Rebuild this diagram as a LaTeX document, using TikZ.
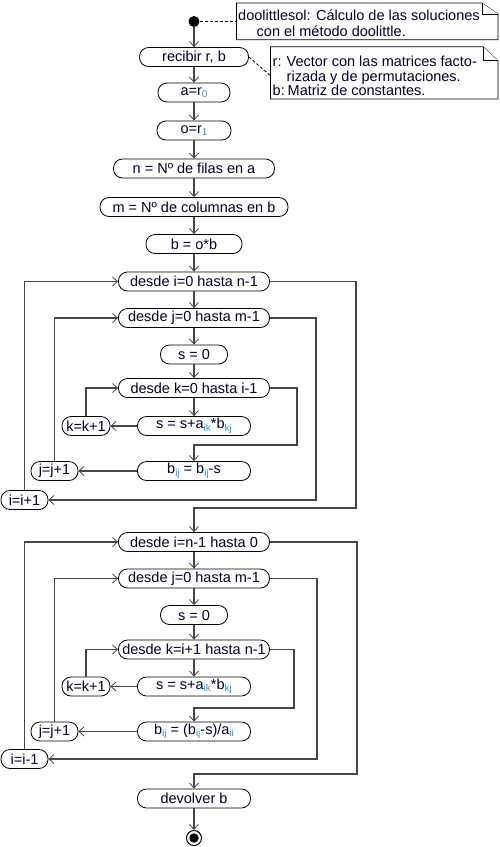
\documentclass[tikz,border=0pt]{standalone}
\usepackage{fontspec}
\setmainfont{Liberation Sans}
\usetikzlibrary{arrows.meta}
\definecolor{txt}{RGB}{0,0,45}
\definecolor{subc}{RGB}{40,150,220}
\definecolor{ln}{RGB}{70,70,70}
\newcommand\fs{\fontsize{14.5}{17}\selectfont}
\newcommand\subx[1]{\raisebox{-2.5pt}{\fontsize{10}{10}\selectfont\color{subc}#1}}
\tikzset{
  box/.style={draw=black, line width=0.8pt, fill=white, rounded corners=9pt, minimum height=19pt, inner sep=0pt, text=txt, font=\fs},
  conn/.style={draw=ln, line width=1.1pt},
  arr/.style={conn, -{Straight Barb[length=5pt,width=9pt,line width=0.8pt]}},
  notebox/.style={inner sep=0pt, anchor=north west},
  notetxt/.style={inner sep=0pt, anchor=base west, text=txt, font=\fs},
  dsh/.style={draw=black, line width=0.8pt, dash pattern=on 3pt off 2pt},
  noteline/.style={draw=black, line width=0.8pt, fill=white}
}
\begin{document}
\begin{tikzpicture}[x=1pt,y=-1pt]
\useasboundingbox (0,0) rectangle (499,847);
% notes
\node[notebox, minimum width=261pt, minimum height=36.3pt] (note1) at (236.5,3) {};
\draw[noteline] (note1.north west) -- ([xshift=-16pt]note1.north east) -- ([yshift=-11pt]note1.north east) -- (note1.south east) -- (note1.south west) -- cycle;
\draw[noteline] ([xshift=-16pt]note1.north east) |- ([yshift=-11pt]note1.north east);
\node[notetxt] (n1a) at (238,20.5) {doolittlesol: Cálculo de las soluciones};
\node[notetxt] (n1b) at (256.5,36) {con el método doolittle.};
\node[notebox, minimum width=227pt, minimum height=51.8pt] (note2) at (270.5,46.7) {};
\draw[noteline] (note2.north west) -- ([xshift=-15pt]note2.north east) -- ([yshift=-14pt]note2.north east) -- (note2.south east) -- (note2.south west) -- cycle;
\draw[noteline] ([xshift=-15pt]note2.north east) |- ([yshift=-14pt]note2.north east);
\node[notetxt] (n2a) at (272.5,66) {\makebox[14pt][l]{r:}Vector con las matrices facto-};
\node[notetxt] (n2b) at (272.5,81) {\hspace{14pt}rizada y de permutaciones.};
\node[notetxt] (n2c) at (272.5,95.5) {\makebox[15pt][l]{b:}Matriz de constantes.};
% start
\node[circle, fill=black, minimum size=11pt, inner sep=0pt] (start) at (194,21.5) {};
\draw[dsh] (start) -- (note1.west |- start);
% main
\node[box, minimum width=109pt] (recv) at (194,57) {recibir r, b};
\draw[dsh] (recv.east) -- ([yshift=-3pt]note2.west);
\node[box, minimum width=72pt] (ar) at (194,92.5) {a=r\subx{0}};
\node[box, minimum width=74pt] (or) at (194,130.5) {o=r\subx{1}};
\node[box, minimum width=161pt] (nf) at (194,168.5) {n = Nº de filas en a};
\node[box, minimum width=188pt] (mc) at (194,207) {m = Nº de columnas en b};
\node[box, minimum width=96pt] (bob) at (194,244) {b = o*b};
% first loop
\node[box, minimum width=151pt] (di1) at (194,281.5) {desde i=0 hasta n-1};
\node[box, minimum width=151pt] (dj1) at (194,318) {desde j=0 hasta m-1};
\node[box, minimum width=67pt] (s01) at (194,354.5) {s = 0};
\node[box, minimum width=151pt] (dk1) at (194,388) {desde k=0 hasta i-1};
\node[box, minimum width=48pt] (kk1) at (86,426) {k=k+1};
\node[box, minimum width=113pt] (ss1) at (194,426) {s = s+a\subx{ik}*b\subx{kj}};
\node[box, minimum width=113pt] (bb1) at (194,471) {b\subx{ij} = b\subx{ij}-s};
\node[box, minimum width=47pt] (jj1) at (54.5,471) {j=j+1};
\node[box, minimum width=47pt] (ii1) at (24.5,500) {i=i+1};
\coordinate (c1) at (356,508);
\coordinate (c2) at (316,500);
\coordinate (c3) at (297,445);
% second loop
\node[box, minimum width=151pt] (di2) at (194,542) {desde i=n-1 hasta 0};
\node[box, minimum width=151pt] (dj2) at (194,578.5) {desde j=0 hasta m-1};
\node[box, minimum width=67pt] (s02) at (194,615) {s = 0};
\node[box, minimum width=151pt] (dk2) at (194,649.5) {desde k=i+1 hasta n-1};
\node[box, minimum width=48pt] (kk2) at (86,686.5) {k=k+1};
\node[box, minimum width=113pt] (ss2) at (194,686.5) {s = s+a\subx{ik}*b\subx{kj}};
\node[box, minimum width=113pt] (bb2) at (194,731.5) {b\subx{ij} = (b\subx{ij}-s)/a\subx{ii}};
\node[box, minimum width=47pt] (jj2) at (54.5,731.5) {j=j+1};
\node[box, minimum width=47pt] (ii2) at (24.5,759) {i=i-1};
\node[box, minimum width=113pt] (dev) at (194,798.5) {devolver b};
\coordinate (c4) at (357,774);
\coordinate (c5) at (317,759);
\coordinate (c6) at (294,708);
\node[circle, draw=black, line width=1pt, fill=white, minimum size=15pt, inner sep=0pt] (fin) at (194,838) {};
\node[circle, fill=black, minimum size=9.5pt, inner sep=0pt] (fininner) at (fin) {};
% straight arrows
\draw[arr] (start) -- (recv);
\draw[arr] (recv) -- (ar);
\draw[arr] (ar) -- (or);
\draw[arr] (or) -- (nf);
\draw[arr] (nf) -- (mc);
\draw[arr] (mc) -- (bob);
\draw[arr] (bob) -- (di1);
\draw[arr] (di1) -- (dj1);
\draw[arr] (dj1) -- (s01);
\draw[arr] (s01) -- (dk1);
\draw[arr] (dk1) -- (ss1);
\draw[arr] (ss1) -- (kk1);
\draw[arr] (kk1.north) |- (dk1.west);
\draw[arr] (dk1.east) -| (c3) -| (bb1.north);
\draw[arr] (bb1) -- (jj1);
\draw[arr] (jj1.north) |- (dj1.west);
\draw[arr] (dj1.east) -| (c2) -- (ii1.east);
\draw[arr] (ii1.north) |- (di1.west);
\draw[arr] (di1.east) -| (c1) -| (di2.north);
\draw[arr] (di2) -- (dj2);
\draw[arr] (dj2) -- (s02);
\draw[arr] (s02) -- (dk2);
\draw[arr] (dk2) -- (ss2);
\draw[arr] (ss2) -- (kk2);
\draw[arr] (kk2.north) |- (dk2.west);
\draw[arr] (dk2.east) -| (c6) -| (bb2.north);
\draw[arr] (bb2) -- (jj2);
\draw[arr] (jj2.north) |- (dj2.west);
\draw[arr] (dj2.east) -| (c5) -- (ii2.east);
\draw[arr] (ii2.north) |- (di2.west);
\draw[arr] (di2.east) -| (c4) -| (dev.north);
\draw[arr] (dev) -- (fin);
\end{tikzpicture}
\end{document}
